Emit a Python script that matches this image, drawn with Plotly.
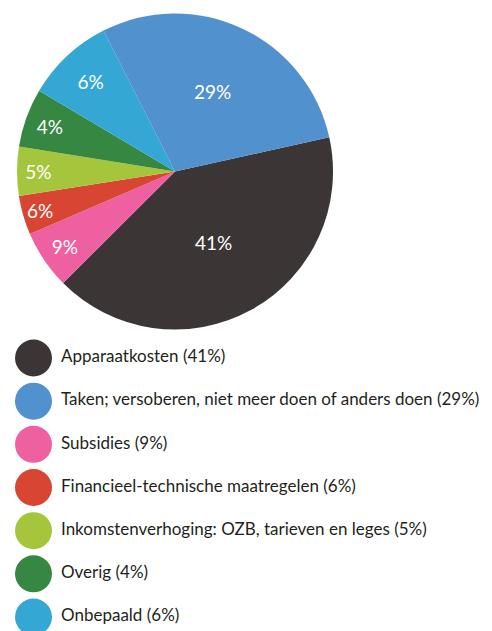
import plotly.graph_objects as go

# ---- Data (legend) ----
legend_labels = [
    "Apparaatkosten",
    "Taken; versoberen, niet meer doen of anders doen",
    "Subsidies",
    "Financieel-technische maatregelen",
    "Inkomstenverhoging: OZB, tarieven en leges",
    "Overig",
    "Onbepaald",
]
legend_values = [41, 29, 9, 6, 5, 4, 6]
legend_colors = ["#3b3536", "#5191cd", "#ee609f", "#d84532", "#a5c63c", "#358742", "#34a7d4"]

# ---- Data (pie, clockwise as drawn) ----
# Slice order around the pie and the angular sizes as they appear in the picture
pie_order = [0, 2, 3, 4, 5, 6, 1]
slice_sizes = [41, 6, 4, 5, 6, 9, 29]
slice_texts = [f"{legend_values[i]}%" for i in pie_order]

FONT = "Lato"
W, H = 492, 631
OFF = 8  # page body offset

fig = go.Figure()

fig.add_trace(go.Pie(
    labels=[legend_labels[i] for i in pie_order],
    values=slice_sizes,
    text=slice_texts,
    marker=dict(colors=[legend_colors[i] for i in pie_order], line=dict(width=0)),
    sort=False,
    direction="clockwise",
    rotation=77.5,
    texttemplate="%{text}",
    textposition="inside",
    insidetextorientation="horizontal",
    textfont=dict(color="white", size=19, family=FONT),
    hoverinfo="label+text",
    showlegend=False,
    domain=dict(x=[(17 - OFF) / W, (333 - OFF) / W],
                y=[1 - (330 - OFF) / H, 1 - (13 - OFF) / H]),
))

rows = list(range(len(legend_labels)))
fig.add_trace(go.Scatter(
    x=[33.5 - OFF] * len(rows), y=rows, mode="markers",
    marker=dict(size=37, color=legend_colors, line=dict(width=0)),
    showlegend=False, cliponaxis=False, hoverinfo="skip",
))
fig.add_trace(go.Scatter(
    x=[61 - OFF] * len(rows), y=rows, mode="text",
    text=[f"{l} ({v}%)" for l, v in zip(legend_labels, legend_values)],
    textposition="middle right",
    textfont=dict(size=17, color="#231f20", family=FONT),
    showlegend=False, cliponaxis=False, hoverinfo="skip",
))

unit = 43.17
first = 358 - OFF
top_px = first - 0.5 * unit
bottom_idx = (H - first) / unit
fig.update_layout(
    width=W, height=H,
    margin=dict(l=0, r=0, t=0, b=0),
    paper_bgcolor="white", plot_bgcolor="white",
    xaxis=dict(range=[0, W], domain=[0, 1], visible=False, fixedrange=True),
    yaxis=dict(range=[bottom_idx, -0.5], domain=[0, (H - top_px) / H], visible=False, fixedrange=True),
    font=dict(family=FONT),
)

fig.write_html("out.html")
